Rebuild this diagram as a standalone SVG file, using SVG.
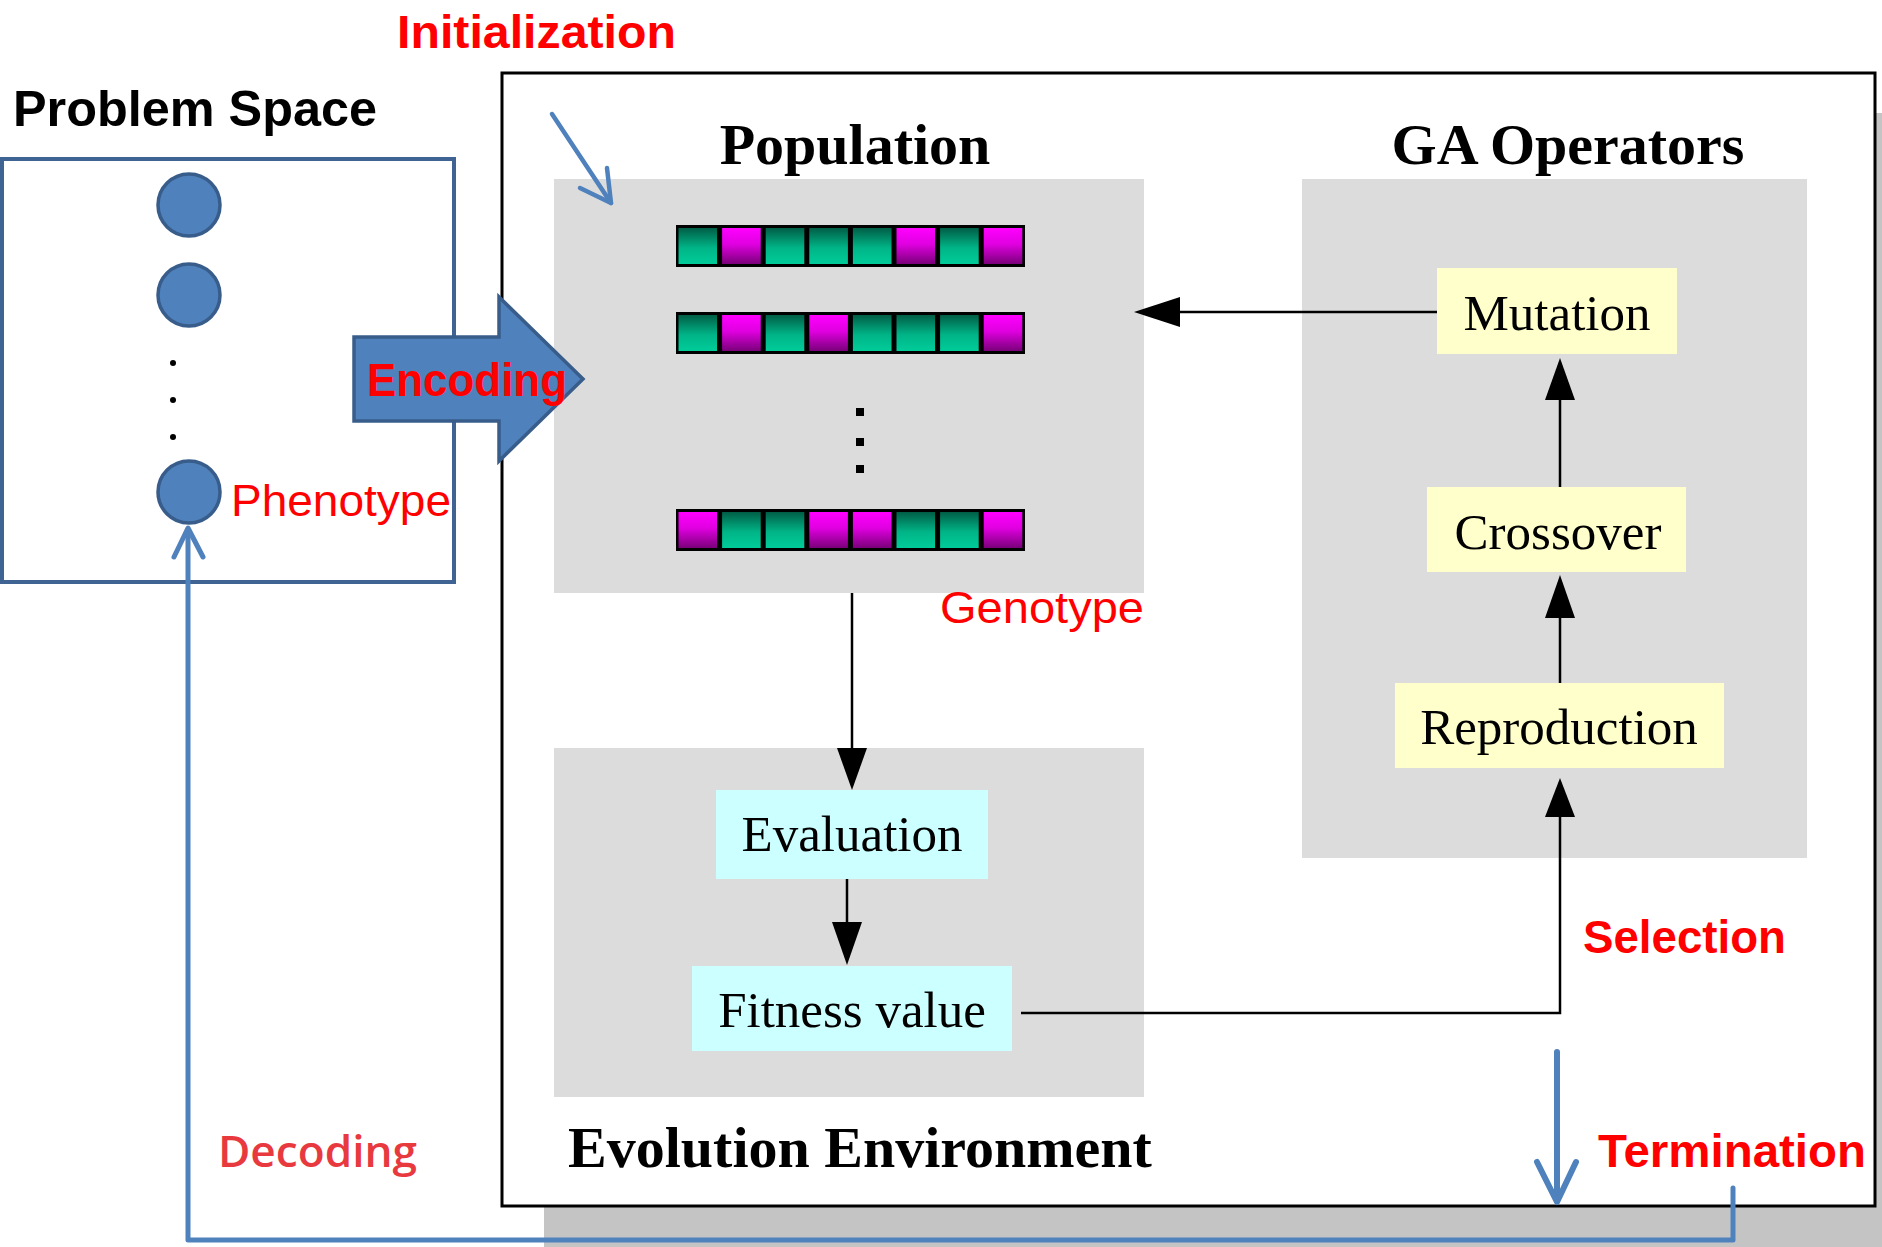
<svg xmlns="http://www.w3.org/2000/svg" width="1882" height="1247" viewBox="0 0 1882 1247">
<defs>
<linearGradient id="gT" x1="0" y1="0" x2="0" y2="1">
<stop offset="0" stop-color="#005E46"/><stop offset="0.55" stop-color="#00B487"/><stop offset="1" stop-color="#00CC99"/>
</linearGradient>
<linearGradient id="gM" x1="0" y1="0" x2="0" y2="1">
<stop offset="0" stop-color="#FF00FF"/><stop offset="0.45" stop-color="#E000E0"/><stop offset="1" stop-color="#7A007A"/>
</linearGradient>
</defs>
<style>
.ser{font-family:"Liberation Serif","Times New Roman",serif;fill:#000}
.ttl{font-size:58px;font-weight:bold}
.lbl{font-size:51px}
.red{font-family:"Liberation Sans",Arial,sans-serif;fill:#FF0000}
.b{font-weight:bold;font-size:46px}
.n{font-size:45px}
.gray{fill:#DCDCDC}
.yel{fill:#FFFFCC}
.cyan{fill:#CCFFFF}
.con{stroke:#000;stroke-width:2.5;fill:none}
.head{fill:#000}
.blue{stroke:#4F81BD;stroke-width:5;fill:none;stroke-linecap:round;stroke-linejoin:round}
.T{fill:url(#gT)}
.M{fill:url(#gM)}
</style>
<rect width="1882" height="1247" fill="#fff"/>
<!-- shadow and frame -->
<rect x="544" y="113" width="1400" height="1200" fill="#C4C4C4"/>
<rect x="502" y="73" width="1373" height="1133" fill="#fff" stroke="#000" stroke-width="3"/>

<g id="population">
<rect class="gray" x="554" y="179" width="590" height="414"/>
<text class="ser ttl" x="855" y="164" text-anchor="middle">Population</text>
<g id="chrom1">
<rect x="676" y="225" width="349" height="42" fill="#000"/>
<rect class="T" x="678.5" y="228" width="38.6" height="36"/>
<rect class="M" x="722.1" y="228" width="38.6" height="36"/>
<rect class="T" x="765.7" y="228" width="38.6" height="36"/>
<rect class="T" x="809.3" y="228" width="38.6" height="36"/>
<rect class="T" x="852.9" y="228" width="38.6" height="36"/>
<rect class="M" x="896.5" y="228" width="38.6" height="36"/>
<rect class="T" x="940.1" y="228" width="38.6" height="36"/>
<rect class="M" x="983.7" y="228" width="38.6" height="36"/>
</g>
<g id="chrom2">
<rect x="676" y="312" width="349" height="42" fill="#000"/>
<rect class="T" x="678.5" y="315" width="38.6" height="36"/>
<rect class="M" x="722.1" y="315" width="38.6" height="36"/>
<rect class="T" x="765.7" y="315" width="38.6" height="36"/>
<rect class="M" x="809.3" y="315" width="38.6" height="36"/>
<rect class="T" x="852.9" y="315" width="38.6" height="36"/>
<rect class="T" x="896.5" y="315" width="38.6" height="36"/>
<rect class="T" x="940.1" y="315" width="38.6" height="36"/>
<rect class="M" x="983.7" y="315" width="38.6" height="36"/>
</g>
<g id="dots2" fill="#000">
<rect x="856" y="408" width="8" height="8"/>
<rect x="856" y="438" width="8" height="8"/>
<rect x="856" y="465" width="8" height="8"/>
</g>
<g id="chrom3">
<rect x="676" y="509" width="349" height="42" fill="#000"/>
<rect class="M" x="678.5" y="512" width="38.6" height="36"/>
<rect class="T" x="722.1" y="512" width="38.6" height="36"/>
<rect class="T" x="765.7" y="512" width="38.6" height="36"/>
<rect class="M" x="809.3" y="512" width="38.6" height="36"/>
<rect class="M" x="852.9" y="512" width="38.6" height="36"/>
<rect class="T" x="896.5" y="512" width="38.6" height="36"/>
<rect class="T" x="940.1" y="512" width="38.6" height="36"/>
<rect class="M" x="983.7" y="512" width="38.6" height="36"/>
</g>
</g>

<g id="evolution-env">
<rect class="gray" x="554" y="748" width="590" height="349"/>
<text class="ser ttl" x="860" y="1167" text-anchor="middle">Evolution Environment</text>
</g>
<g id="evaluation">
<rect class="cyan" x="716" y="790" width="272" height="89"/>
<text class="ser lbl" x="852" y="851" text-anchor="middle">Evaluation</text>
</g>
<g id="fitness">
<rect class="cyan" x="692" y="966" width="320" height="85"/>
<text class="ser lbl" x="852" y="1027" text-anchor="middle">Fitness value</text>
</g>

<g id="ga-operators">
<rect class="gray" x="1302" y="179" width="505" height="679"/>
<text class="ser ttl" x="1568" y="164" text-anchor="middle">GA Operators</text>
</g>
<g id="mutation">
<rect class="yel" x="1437" y="268" width="240" height="86"/>
<text class="ser lbl" x="1557" y="330" text-anchor="middle">Mutation</text>
</g>
<g id="crossover">
<rect class="yel" x="1427" y="487" width="259" height="85"/>
<text class="ser lbl" x="1558" y="549" text-anchor="middle">Crossover</text>
</g>
<g id="reproduction">
<rect class="yel" x="1395" y="683" width="329" height="85"/>
<text class="ser lbl" x="1559" y="744" text-anchor="middle">Reproduction</text>
</g>

<g id="problem-space">
<text x="13" y="126" font-family="Liberation Sans, Arial, sans-serif" font-weight="bold" font-size="50" textLength="364" lengthAdjust="spacingAndGlyphs">Problem Space</text>
<rect x="2" y="159" width="452" height="423" fill="none" stroke="#3F6393" stroke-width="4"/>
<g fill="#4F81BD" stroke="#385D8A" stroke-width="3.5">
<circle cx="189" cy="205" r="31"/>
<circle cx="189" cy="295" r="31"/>
<circle cx="189" cy="492" r="31"/>
</g>
<g fill="#000">
<circle cx="173" cy="363" r="3"/>
<circle cx="173" cy="400" r="3"/>
<circle cx="173" cy="437" r="3"/>
</g>
<text class="red n" x="231" y="516" textLength="220" lengthAdjust="spacingAndGlyphs">Phenotype</text>
</g>

<g id="connectors">
<line class="con" x1="1437" y1="312" x2="1175" y2="312"/>
<polygon class="head" points="1134,312 1180,297 1180,327"/>
<line class="con" x1="1560" y1="487" x2="1560" y2="396"/>
<polygon class="head" points="1560,358 1545,400 1575,400"/>
<line class="con" x1="1560" y1="683" x2="1560" y2="614"/>
<polygon class="head" points="1560,575 1545,618 1575,618"/>
<polyline class="con" points="1021,1013 1560,1013 1560,813"/>
<polygon class="head" points="1560,778 1545,817 1575,817"/>
<line class="con" x1="852" y1="593" x2="852" y2="752"/>
<polygon class="head" points="852,790 837,748 867,748"/>
<line class="con" x1="847" y1="879" x2="847" y2="926"/>
<polygon class="head" points="847,965 832,922 862,922"/>

<polygon id="encoding-arrow" points="354,337 499,337 499,297 583,379 499,461 499,421 354,421" fill="#4F81BD" stroke="#385D8A" stroke-width="3.5" stroke-linejoin="miter"/>

<g class="blue">
<polyline points="552,114 611,203" stroke-width="4.5"/>
<polyline points="580,188 611,203 607,168" stroke-width="4.5"/>
<line x1="1557" y1="1052" x2="1557" y2="1200" stroke-width="6"/>
<polyline points="1537,1162 1557,1202 1576,1162" stroke-width="6"/>
<polyline points="1733,1188 1733,1240 188,1240 188,530"/>
<polyline points="174,557 188,528 203,557"/>
</g>
</g>

<g id="labels">
<text class="red b" x="397" y="48" textLength="279" lengthAdjust="spacingAndGlyphs">Initialization</text>
<text class="red b" x="367" y="396" textLength="200" lengthAdjust="spacingAndGlyphs">Encoding</text>
<text class="red n" x="940" y="623" textLength="204" lengthAdjust="spacingAndGlyphs">Genotype</text>
<text class="red b" x="1583" y="953" textLength="203" lengthAdjust="spacingAndGlyphs">Selection</text>
<text class="red b" x="1598" y="1167" textLength="268" lengthAdjust="spacingAndGlyphs">Termination</text>
<text x="218" y="1167" font-family="Open Sans, Liberation Sans, Arial, sans-serif" font-weight="600" font-size="44" fill="#E8393F" textLength="199" lengthAdjust="spacingAndGlyphs">Decoding</text>
</g>
</svg>
